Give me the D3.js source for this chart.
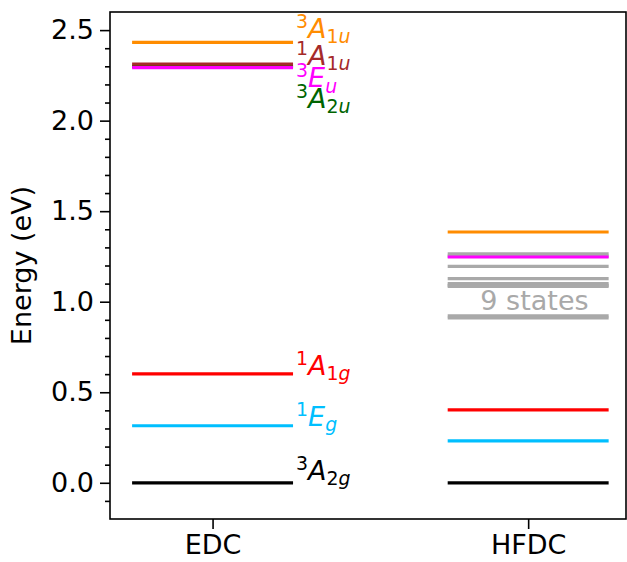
<!DOCTYPE html>
<html>
<head>
<meta charset="utf-8">
<script src="https://cdn.jsdelivr.net/npm/d3@7"></script>
<style>
  html, body { margin: 0; padding: 0; background: #fff; }
  svg { display: block; font-family: "DejaVu Sans", sans-serif; }
</style>
</head>
<body>
<svg id="chart" width="627" height="562"></svg>
<script>
// ---------- data ----------
const methods = ["EDC", "HFDC"];
const methodPos = [0, 1];

// EDC states
const edcStates  = ["3A2u", "1A1u", "3Eu", "3A1u", "1A1g", "1Eg", "3A2g"];
const edcEnergy  = [2.300, 2.312, 2.293, 2.432, 0.602, 0.315, 0.000];
const edcColors  = ["#006400", "#a52a2a", "#ff00ff", "#ff8c00", "#ff0000", "#00bfff", "#000000"];

// label texts (superscript, symbol, subscript digit, subscript letter) and their y anchor (eV)
const labelSup   = ["3", "1", "3", "3", "1", "1", "3"];
const labelSym   = ["A", "A", "E", "A", "A", "E", "A"];
const labelSubN  = ["2", "1", "",  "1", "1", "",  "2"];
const labelSubL  = ["u", "u", "u", "u", "g", "g", "g"];
const labelE     = [2.070, 2.307, 2.185, 2.456, 0.596, 0.315, 0.017];

// HFDC states
const hfdcGray   = [1.264, 1.252, 1.195, 1.128, 1.100, 1.090, 1.085, 0.922, 0.910];
const hfdcStates = ["3A1u", "3Eu", "1A1g", "1Eg", "3A2g"];
const hfdcEnergy = [1.385, 1.247, 0.403, 0.232, 0.000];
const hfdcColors = ["#ff8c00", "#ff00ff", "#ff0000", "#00bfff", "#000000"];
const grayLabel  = "9 states";
const grayLabelPos = [1.02, 0.955];

const yMajor = [0.0, 0.5, 1.0, 1.5, 2.0, 2.5];
const yMinor = [-0.1, 0.1, 0.2, 0.3, 0.4, 0.6, 0.7, 0.8, 0.9, 1.1, 1.2, 1.3, 1.4,
                1.6, 1.7, 1.8, 1.9, 2.1, 2.2, 2.3, 2.4];
const yLabel = "Energy (eV)";

// ---------- layout ----------
const F = 27;
const halfW = 0.255;
const svg = d3.select("#chart");
const x = d3.scaleLinear().domain([-0.325, 1.31]).range([110, 626]);
const y = d3.scaleLinear().domain([-0.2, 2.6]).range([519, 12]);

const lineW = 3.2;

function levels(data, pos, colorFn) {
  svg.append("g").selectAll("line").data(data).join("line")
    .attr("x1", x(pos - halfW)).attr("x2", x(pos + halfW))
    .attr("y1", d => y(d)).attr("y2", d => y(d))
    .attr("stroke", colorFn).attr("stroke-width", lineW);
}
levels(edcEnergy, methodPos[0], (d, i) => edcColors[i]);
levels(hfdcGray, methodPos[1], () => "#a9a9a9");
levels(hfdcEnergy, methodPos[1], (d, i) => hfdcColors[i]);

// "9 states"
svg.append("text")
  .attr("x", x(grayLabelPos[0])).attr("y", y(grayLabelPos[1]))
  .attr("text-anchor", "middle").attr("font-size", F).attr("fill", "#a9a9a9")
  .text(grayLabel);

// state labels
const lbl = svg.append("g");
edcStates.forEach((s, i) => {
  const t = lbl.append("text")
    .attr("x", x(methodPos[0] + halfW) + 3).attr("y", y(labelE[i]))
    .attr("font-size", F).attr("fill", edcColors[i]);
  t.append("tspan").attr("font-size", F * 0.7).attr("dy", -0.36 * F).text(labelSup[i]);
  t.append("tspan").attr("font-style", "italic").attr("dy", 0.36 * F).text(labelSym[i]);
  const subText = labelSubN[i] + labelSubL[i];
  const sub = t.append("tspan").attr("font-size", F * 0.7).attr("dy", 0.2 * F);
  if (labelSubN[i]) sub.append("tspan").text(labelSubN[i]);
  sub.append("tspan").attr("font-style", "italic").text(labelSubL[i]);
});

// axes
const axG = svg.append("g").attr("font-size", F);
const yAxis = axG.append("g").attr("transform", "translate(110,0)")
  .call(d3.axisLeft(y).tickValues(yMajor).tickFormat(d3.format(".1f")).tickSize(10).tickPadding(6));
const yMin = axG.append("g").attr("transform", "translate(110,0)")
  .call(d3.axisLeft(y).tickValues(yMinor).tickFormat("").tickSize(5));
const xAxis = axG.append("g").attr("transform", "translate(0,519)")
  .call(d3.axisBottom(x).tickValues(methodPos).tickFormat((d, i) => methods[i]).tickSize(10).tickPadding(6));
[yAxis, yMin, xAxis].forEach(g => {
  g.select(".domain").remove();
  g.selectAll(".tick line").attr("stroke", "#000").attr("stroke-width", 1.6);
  g.selectAll(".tick text").attr("font-size", F).attr("fill", "#000")
    .attr("font-family", "DejaVu Sans, sans-serif");
});

// frame
svg.append("rect").attr("x", 110).attr("y", 12).attr("width", 516).attr("height", 507)
  .attr("fill", "none").attr("stroke", "#000").attr("stroke-width", 1.6);

// y label
svg.append("text")
  .attr("transform", `translate(31,${(12 + 519) / 2}) rotate(-90)`)
  .attr("text-anchor", "middle").attr("font-size", F).attr("fill", "#000")
  .text(yLabel);
</script>
</body>
</html>
